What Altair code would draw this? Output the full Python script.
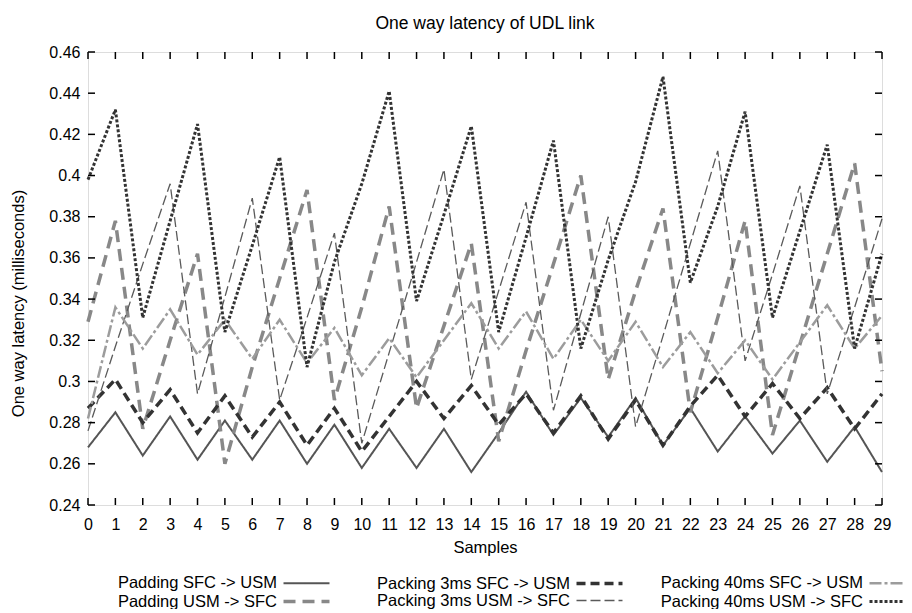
import altair as alt
import pandas as pd

samples = list(range(30))

padding_sfc_usm = [0.268, 0.285, 0.264, 0.283, 0.262, 0.281, 0.262, 0.281, 0.260, 0.279,
                   0.258, 0.277, 0.258, 0.277, 0.256, 0.275, 0.295, 0.274, 0.292, 0.273,
                   0.292, 0.269, 0.287, 0.266, 0.283, 0.265, 0.281, 0.261, 0.278, 0.256]
padding_usm_sfc = [0.329, 0.378, 0.277, 0.320, 0.362, 0.260, 0.307, 0.350, 0.393, 0.291,
                   0.336, 0.385, 0.287, 0.327, 0.367, 0.271, 0.315, 0.357, 0.400, 0.301,
                   0.344, 0.384, 0.285, 0.331, 0.378, 0.274, 0.318, 0.362, 0.406, 0.305]
packing3_sfc_usm = [0.287, 0.301, 0.280, 0.296, 0.275, 0.293, 0.273, 0.290, 0.269, 0.287,
                    0.266, 0.283, 0.300, 0.282, 0.298, 0.279, 0.294, 0.275, 0.293, 0.272,
                    0.291, 0.269, 0.288, 0.303, 0.283, 0.299, 0.282, 0.297, 0.277, 0.294]
packing3_usm_sfc = [0.276, 0.317, 0.357, 0.396, 0.294, 0.341, 0.389, 0.291, 0.331, 0.372,
                    0.270, 0.314, 0.358, 0.403, 0.301, 0.344, 0.387, 0.286, 0.333, 0.380,
                    0.278, 0.322, 0.367, 0.412, 0.310, 0.352, 0.395, 0.294, 0.336, 0.379]
packing40_sfc_usm = [0.282, 0.336, 0.316, 0.335, 0.313, 0.330, 0.311, 0.330, 0.309, 0.326,
                     0.303, 0.321, 0.302, 0.320, 0.338, 0.316, 0.334, 0.311, 0.330, 0.310,
                     0.329, 0.307, 0.324, 0.304, 0.320, 0.301, 0.319, 0.337, 0.316, 0.332]
packing40_usm_sfc = [0.398, 0.432, 0.331, 0.378, 0.425, 0.324, 0.366, 0.409, 0.307, 0.358,
                     0.396, 0.441, 0.339, 0.381, 0.424, 0.324, 0.370, 0.417, 0.316, 0.359,
                     0.397, 0.448, 0.348, 0.385, 0.431, 0.331, 0.373, 0.415, 0.316, 0.362]

# legend order is column-major: each column holds one method, both directions
names = ["Padding SFC -> USM", "Padding USM -> SFC",
         "Packing 3ms SFC -> USM", "Packing 3ms USM -> SFC",
         "Packing 40ms SFC -> USM", "Packing 40ms USM -> SFC"]
series = [padding_sfc_usm, padding_usm_sfc,
          packing3_sfc_usm, packing3_usm_sfc,
          packing40_sfc_usm, packing40_usm_sfc]
colors = ["#555555", "#888888", "#333333", "#5a5a5a", "#9c9c9c", "#333333"]
dashes = [[1, 0], [12, 7], [9, 5], [10, 4], [12, 3, 3, 3], [3, 2]]
widths = [2, 3.5, 3.5, 1.3, 2.5, 3]

y_ticks = [0.24, 0.26, 0.28, 0.30, 0.32, 0.34, 0.36, 0.38, 0.40, 0.42, 0.44, 0.46]

rows = []
for name, vals in zip(names, series):
    for s, v in zip(samples, vals):
        rows.append({"sample": s, "latency": v, "series": name})
df = pd.DataFrame(rows)

W, H = 794, 453
FONT = "Liberation Sans"
LBL = 16
TTL = 16.5

legend = alt.Legend(
    orient="none", legendX=209, legendY=522, columns=3, title=None,
    symbolType="M-3,0H3", symbolSize=235, labelAlign="right", labelOffset={"expr": "-39"},
    labelFontSize=TTL, labelFont=FONT, labelColor="black", labelLimit=400,
    columnPadding=30, rowPadding=0, gridAlign="all",
)

xscale = alt.Scale(domain=[0, 29], nice=False, zero=False)
yscale = alt.Scale(domain=[0.24, 0.46], nice=False, zero=False)

x_axis = alt.Axis(values=samples, ticks=False, tickSize=0, domain=False, grid=False,
                  labelFontSize=LBL, labelFont=FONT, labelColor="black", labelPadding=11,
                  labelOverlap=False, labelFlush=False,
                  title="Samples", titleFontSize=TTL, titleFont=FONT,
                  titleFontWeight="normal", titlePadding=7)
y_axis = alt.Axis(values=y_ticks, format="~g", ticks=False, tickSize=0, domain=False,
                  grid=False, labelFontSize=LBL, labelFont=FONT, labelColor="black",
                  labelPadding=8, labelOverlap=False,
                  title="One way latency (milliseconds)",
                  titleFontSize=TTL, titleFont=FONT, titleFontWeight="normal",
                  titlePadding=22, titleY=251)

lines = alt.Chart(df).mark_line(strokeCap="butt", strokeJoin="miter").encode(
    x=alt.X("sample:Q", scale=xscale, axis=x_axis),
    y=alt.Y("latency:Q", scale=yscale, axis=y_axis),
    color=alt.Color("series:N", sort=names,
                    scale=alt.Scale(domain=names, range=colors), legend=legend),
    strokeDash=alt.StrokeDash("series:N", sort=names,
                              scale=alt.Scale(domain=names, range=dashes), legend=legend),
    strokeWidth=alt.StrokeWidth("series:N", sort=names,
                                scale=alt.Scale(type="ordinal", domain=names, range=widths),
                                legend=legend),
)

xt = pd.DataFrame({"v": samples})
yt = pd.DataFrame({"v": y_ticks})
tick_style = dict(color="black", strokeWidth=1.5)
xb = alt.Chart(xt).mark_rule(**tick_style).encode(
    x=alt.X("v:Q", scale=xscale, axis=x_axis), y=alt.value(H), y2=alt.value(H - 7))
xtop = alt.Chart(xt).mark_rule(**tick_style).encode(
    x=alt.X("v:Q", scale=xscale, axis=x_axis), y=alt.value(0), y2=alt.value(7))
yl = alt.Chart(yt).mark_rule(**tick_style).encode(
    y=alt.Y("v:Q", scale=yscale, axis=y_axis), x=alt.value(0), x2=alt.value(7))
yr = alt.Chart(yt).mark_rule(**tick_style).encode(
    y=alt.Y("v:Q", scale=yscale, axis=y_axis), x=alt.value(W), x2=alt.value(W - 7))

chart = alt.layer(lines, xb, xtop, yl, yr).properties(
    width=W, height=H,
    title=alt.TitleParams("One way latency of UDL link", fontSize=17.5, font=FONT,
                          fontWeight="normal", color="black", offset=12, anchor="middle"),
    autosize=alt.AutoSizeParams(type="none"),
    padding={"left": 80, "top": 44, "right": 22, "bottom": 104},
).configure_view(stroke="black", strokeWidth=2).configure(background="white")

chart.save("out.html", embed_options={"renderer": "svg", "actions": False})
